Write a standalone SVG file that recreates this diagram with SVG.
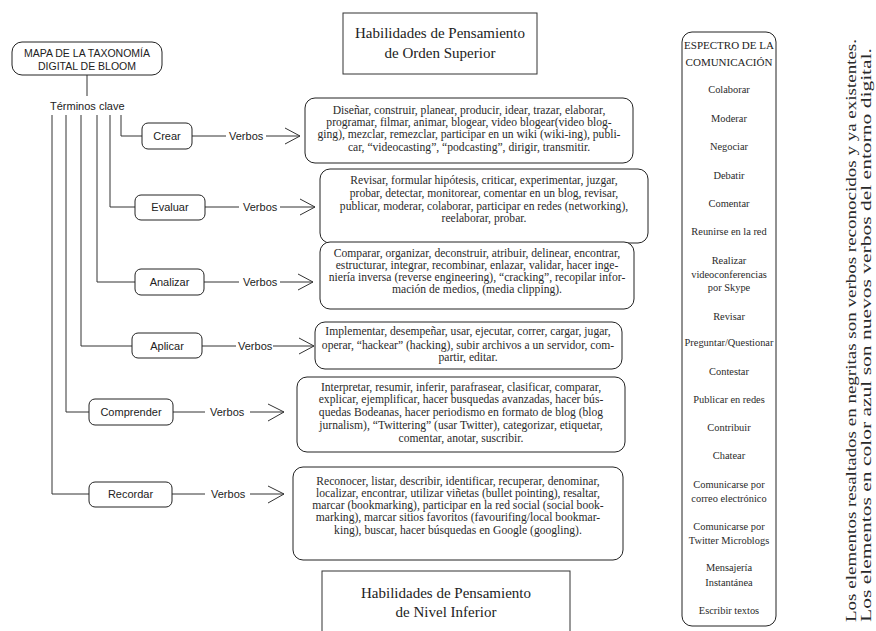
<svg xmlns="http://www.w3.org/2000/svg" width="876" height="631" viewBox="0 0 876 631">
<defs>
<style>
.bg{fill:#fff}
.box{fill:#fff;stroke:#222;stroke-width:1}
.sq{fill:#fff;stroke:#333;stroke-width:1}
.ln{fill:none;stroke:#333;stroke-width:1}
.sans{font-family:"Liberation Sans","Open Sans",sans-serif;font-size:11px;fill:#222}
.hd{font-family:"Liberation Sans","Open Sans",sans-serif;font-size:10.5px;fill:#222;text-anchor:middle}
.cat{font-family:"Liberation Sans","Open Sans",sans-serif;font-size:11px;fill:#222;text-anchor:middle}
.vt{font-family:"Liberation Serif","Times New Roman",serif;font-size:11.6px;fill:#2a2a2a;text-anchor:middle}
.ti{font-family:"Liberation Serif","Times New Roman",serif;font-size:15px;fill:#222;text-anchor:middle}
.sp{font-family:"Liberation Serif","Times New Roman",serif;font-size:10.4px;fill:#2a2a2a;text-anchor:middle}
.sph{font-family:"Liberation Serif","Times New Roman",serif;font-size:11px;fill:#222;text-anchor:middle}
.note{font-family:"Liberation Serif","Times New Roman",serif;font-size:15px;fill:#2a2a2a}
</style>
</defs>
<rect class="bg" x="0" y="0" width="876" height="631"/>

<g id="title-top">
<rect class="sq" x="343" y="13" width="194" height="61"/>
<text class="ti" x="440" y="38">Habilidades de Pensamiento</text>
<text class="ti" x="440" y="58">de Orden Superior</text>
</g>

<g id="title-bottom">
<rect class="sq" x="322" y="571" width="248" height="70"/>
<text class="ti" x="446" y="598">Habilidades de Pensamiento</text>
<text class="ti" x="446" y="617">de Nivel Inferior</text>
</g>

<g id="mapa">
<rect class="box" x="12" y="42" width="150" height="33" rx="10"/>
<text class="hd" x="87" y="57">MAPA DE LA TAXONOMÍA</text>
<text class="hd" x="87" y="70">DIGITAL DE BLOOM</text>
</g>

<g id="terminos">
<text class="sans" x="50" y="110">Términos clave</text>
</g>

<g id="connectors">
<path class="ln" d="M87 75V96"/>
<path class="ln" d="M121 115V136H142"/>
<path class="ln" d="M110 115V207H135"/>
<path class="ln" d="M97 115V282H135"/>
<path class="ln" d="M81 115V346H132"/>
<path class="ln" d="M66 115V412H89"/>
<path class="ln" d="M52 115V494H89"/>
<path class="ln" d="M192 136H226M266 136H300M285 128L300 136L285 144"/>
<path class="ln" d="M205 207H239M280 207H315M300 199L315 207L300 215"/>
<path class="ln" d="M204 282H239M280 282H313M298 274L313 282L298 290"/>
<path class="ln" d="M202 346H236M273 346H314M299 338L314 346L299 354"/>
<path class="ln" d="M173 412H205M250 412H284M268 404L284 412L268 421"/>
<path class="ln" d="M172 494H205M250 494H284M268 486L284 494L268 503"/>
<text class="sans" x="229" y="140">Verbos</text>
<text class="sans" x="243" y="211">Verbos</text>
<text class="sans" x="243" y="286">Verbos</text>
<text class="sans" x="238" y="350">Verbos</text>
<text class="sans" x="210" y="416">Verbos</text>
<text class="sans" x="211" y="498">Verbos</text>
</g>

<g id="crear">
<rect class="box" x="142" y="123" width="50" height="26" rx="6"/>
<text class="cat" x="167" y="140">Crear</text>
</g>
<g id="evaluar">
<rect class="box" x="135" y="195" width="70" height="25" rx="6"/>
<text class="cat" x="170" y="211">Evaluar</text>
</g>
<g id="analizar">
<rect class="box" x="135" y="269" width="69" height="26" rx="6"/>
<text class="cat" x="169.5" y="286">Analizar</text>
</g>
<g id="aplicar">
<rect class="box" x="132" y="333" width="70" height="25" rx="6"/>
<text class="cat" x="167" y="350">Aplicar</text>
</g>
<g id="comprender">
<rect class="box" x="89" y="399" width="84" height="26" rx="6"/>
<text class="cat" x="131" y="416">Comprender</text>
</g>
<g id="recordar">
<rect class="box" x="89" y="482" width="83" height="25" rx="6"/>
<text class="cat" x="130.5" y="498">Recordar</text>
</g>

<g id="verbos-crear">
<rect class="box" x="305" y="98" width="328" height="65" rx="10"/>
<text class="vt" x="469" y="114">Diseñar, construir, planear, producir, idear, trazar, elaborar,</text>
<text class="vt" x="469" y="126">programar, filmar, animar, blogear, video blogear(video blog-</text>
<text class="vt" x="469" y="138">ging), mezclar, remezclar, participar en un wiki (wiki-ing), publi-</text>
<text class="vt" x="469" y="151">car, “videocasting”, “podcasting”, dirigir, transmitir.</text>
</g>

<g id="verbos-evaluar">
<rect class="box" x="320" y="169" width="328" height="74" rx="10"/>
<text class="vt" x="484" y="184">Revisar, formular hipótesis, criticar, experimentar, juzgar,</text>
<text class="vt" x="484" y="197">probar, detectar, monitorear, comentar en un blog, revisar,</text>
<text class="vt" x="484" y="210">publicar, moderar, colaborar, participar en redes (networking),</text>
<text class="vt" x="484" y="222">reelaborar, probar.</text>
</g>

<g id="verbos-analizar">
<rect class="box" x="320" y="242" width="314" height="67" rx="10"/>
<text class="vt" x="477" y="257">Comparar, organizar, deconstruir, atribuir, delinear, encontrar,</text>
<text class="vt" x="477" y="269">estructurar, integrar, recombinar, enlazar, validar, hacer inge-</text>
<text class="vt" x="477" y="281">niería inversa (reverse engineering), “cracking”, recopilar infor-</text>
<text class="vt" x="477" y="293">mación de medios, (media clipping).</text>
</g>

<g id="verbos-aplicar">
<rect class="box" x="315" y="322" width="307" height="47" rx="10"/>
<text class="vt" x="468" y="335">Implementar, desempeñar, usar, ejecutar, correr, cargar, jugar,</text>
<text class="vt" x="468" y="349">operar, “hackear” (hacking), subir archivos a un servidor, com-</text>
<text class="vt" x="468" y="361">partir, editar.</text>
</g>

<g id="verbos-comprender">
<rect class="box" x="297" y="377" width="328" height="75" rx="10"/>
<text class="vt" x="461" y="391">Interpretar, resumir, inferir, parafrasear, clasificar, comparar,</text>
<text class="vt" x="461" y="403">explicar, ejemplificar, hacer busquedas avanzadas, hacer bús-</text>
<text class="vt" x="461" y="416">quedas Bodeanas, hacer periodismo en formato de blog (blog</text>
<text class="vt" x="461" y="429">jurnalism), “Twittering” (usar Twitter), categorizar, etiquetar,</text>
<text class="vt" x="461" y="442">comentar, anotar, suscribir.</text>
</g>

<g id="verbos-recordar">
<rect class="box" x="293" y="467" width="330" height="93" rx="10"/>
<text class="vt" x="458" y="485">Reconocer, listar, describir, identificar, recuperar, denominar,</text>
<text class="vt" x="458" y="497">localizar, encontrar, utilizar viñetas (bullet pointing), resaltar,</text>
<text class="vt" x="458" y="509">marcar (bookmarking), participar en la red social (social book-</text>
<text class="vt" x="458" y="521">marking), marcar sitios favoritos (favourifing/local bookmar-</text>
<text class="vt" x="458" y="534">king), buscar, hacer búsquedas en Google (googling).</text>
</g>

<g id="espectro">
<rect class="box" x="682" y="32" width="94" height="594" rx="10"/>
<text class="sph" x="729" y="49">ESPECTRO DE LA</text>
<text class="sph" x="729" y="66">COMUNICACIÓN</text>
<text class="sp" x="729" y="93">Colaborar</text>
<text class="sp" x="729" y="122">Moderar</text>
<text class="sp" x="729" y="150">Negociar</text>
<text class="sp" x="729" y="179">Debatir</text>
<text class="sp" x="729" y="207">Comentar</text>
<text class="sp" x="729" y="235">Reunirse en la red</text>
<text class="sp" x="729" y="264">Realizar</text>
<text class="sp" x="729" y="278">videoconferencias</text>
<text class="sp" x="729" y="291">por Skype</text>
<text class="sp" x="729" y="320">Revisar</text>
<text class="sp" x="729" y="346">Preguntar/Questionar</text>
<text class="sp" x="729" y="375">Contestar</text>
<text class="sp" x="729" y="403">Publicar en redes</text>
<text class="sp" x="729" y="431">Contribuir</text>
<text class="sp" x="729" y="459">Chatear</text>
<text class="sp" x="729" y="488">Comunicarse por</text>
<text class="sp" x="729" y="502">correo electrónico</text>
<text class="sp" x="729" y="530">Comunicarse por</text>
<text class="sp" x="729" y="544">Twitter Microblogs</text>
<text class="sp" x="729" y="571">Mensajería</text>
<text class="sp" x="729" y="586">Instantánea</text>
<text class="sp" x="729" y="614">Escribir textos</text>
</g>

<g id="nota">
<text class="note" transform="translate(856,622) rotate(-90)" textLength="583" lengthAdjust="spacingAndGlyphs">Los elementos resaltados en negritas son verbos reconocidos y ya existentes.</text>
<text class="note" transform="translate(871,622) rotate(-90)" textLength="574" lengthAdjust="spacingAndGlyphs">Los elementos en color azul son nuevos verbos del entorno digital.</text>
</g>
</svg>
